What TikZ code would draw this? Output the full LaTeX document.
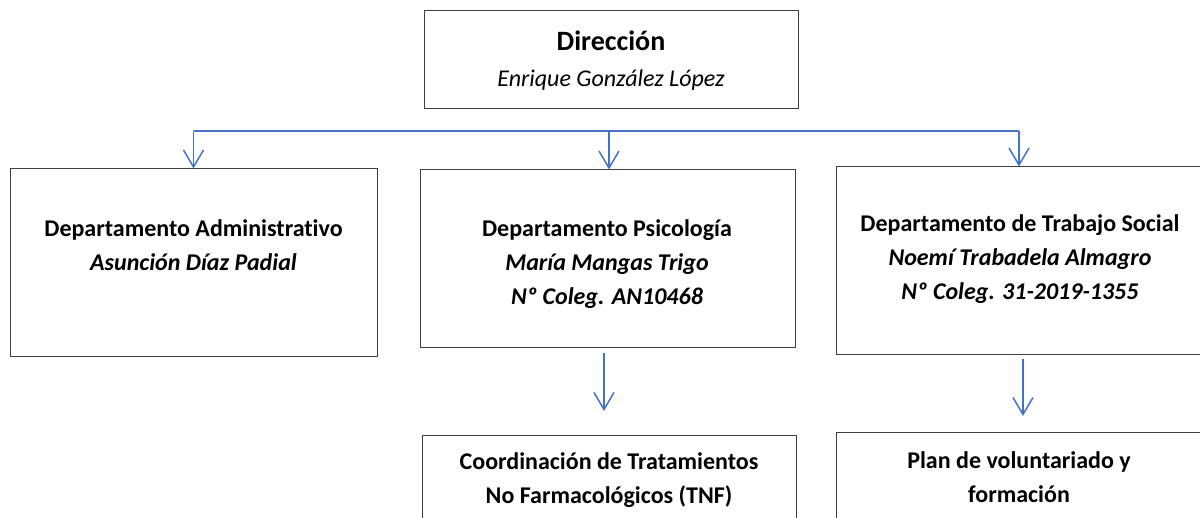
\documentclass[tikz,border=0pt]{standalone}
\usepackage{fontspec}
\setmainfont{Carlito}[Ligatures={NoCommon,TeX}]
\usetikzlibrary{arrows.meta}
\definecolor{arrowblue}{HTML}{4472C4}
\definecolor{boxgray}{HTML}{3F3F3F}
\tikzset{
  box/.style={draw=boxgray, line width=1pt, rectangle, inner sep=0pt},
  txt/.style={align=center, inner sep=0pt, font=\fontsize{24}{34}\selectfont},
  conn/.style={draw=arrowblue, line width=1.5pt},
  arr/.style={conn, -{Straight Barb[length=17pt,width=20pt,line width=1.5pt]}},
}
\begin{document}
\begin{tikzpicture}[x=1pt,y=1pt]
\useasboundingbox (0,0) rectangle (1200,517);
% boxes
\node[box, minimum width=374pt, minimum height=98pt] (dirbox) at (611,457) {};
\node[box, minimum width=367pt, minimum height=188pt] (adminbox) at (193.5,254) {};
\node[box, minimum width=375pt, minimum height=178pt] (psicobox) at (607.5,258) {};
\node[box, minimum width=368pt, minimum height=188pt] (socialbox) at (1020,256) {};
\node[box, minimum width=374pt, minimum height=104pt] (tnfbox) at (609,29) {};
\node[box, minimum width=368pt, minimum height=107pt] (planbox) at (1020,30.5) {};
% texts
\node[txt] (dir) at (611,456) {{\bfseries\fontsize{28}{34}\selectfont Dirección}\\[2pt]\itshape Enrique González López};
\node[txt] (admin) at (193.5,272) {\bfseries Departamento Administrativo\\\bfseries\itshape Asunción Díaz Padial};
\node[txt] (psico) at (607,253) {\bfseries Departamento Psicología\\\bfseries\itshape María Mangas Trigo\\\bfseries\itshape Nº Coleg. AN10468};
\node[txt] (social) at (1020,258) {\bfseries Departamento de Trabajo Social\\\bfseries\itshape Noemí Trabadela Almagro\\\bfseries\itshape Nº Coleg. 31-2019-1355};
\node[txt] (tnf) at (609,36.5) {\bfseries Coordinación de Tratamientos\\\bfseries No Farmacológicos (TNF)};
\node[txt] (plan) at (1019,40) {\bfseries Plan de voluntariado y\\\bfseries formación};
% connectors
\coordinate (hL) at (193.5,386);
\coordinate (hM) at (609,386);
\coordinate (hR) at (1019,386);
\draw[conn] (hL) -- (hR);
\draw[arr] (hL) -- (hL |- adminbox.north);
\draw[arr] (hM) -- (hM |- psicobox.north);
\draw[arr] (hR) -- (hR |- socialbox.north);
\coordinate (m1) at (604,164);
\coordinate (m2) at (604,106);
\coordinate (r1) at (1023,158);
\coordinate (r2) at (1023,101);
\draw[arr] (m1) -- (m2);
\draw[arr] (r1) -- (r2);
\end{tikzpicture}
\end{document}
